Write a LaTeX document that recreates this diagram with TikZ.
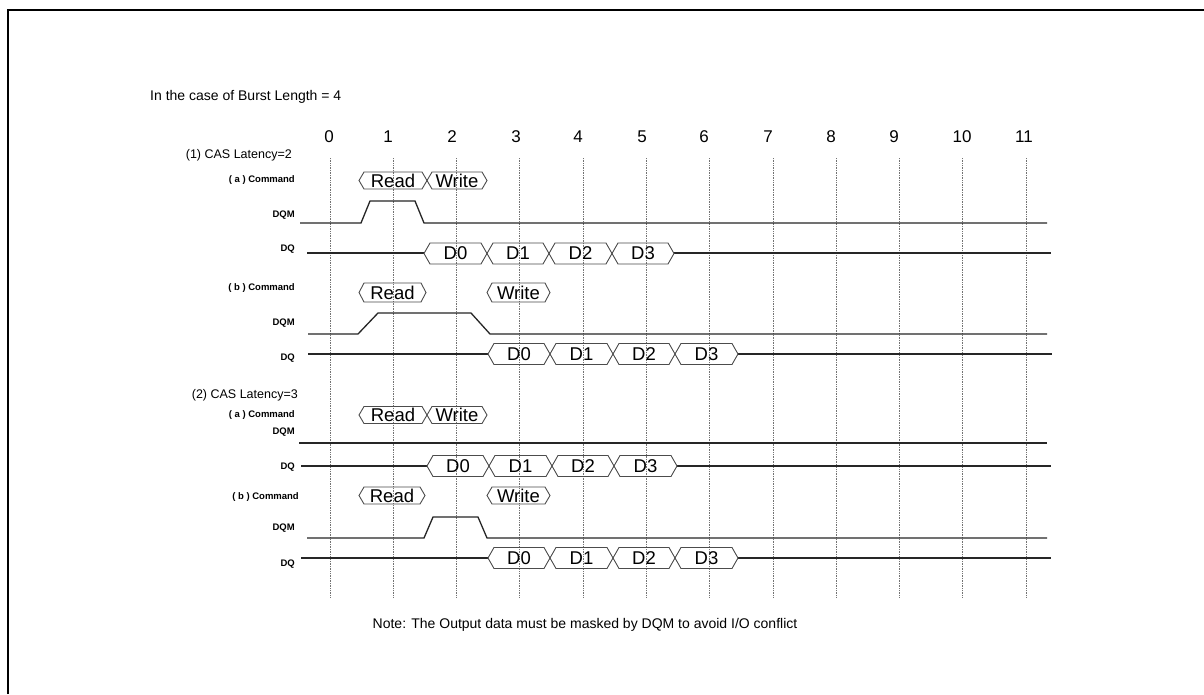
\documentclass[tikz,border=0pt]{standalone}
\usepackage{fontspec}
\setmainfont{Liberation Sans}
\tikzset{
  sig/.style={line width=1.3pt, draw=black!85, line join=miter},
  busline/.style={line width=0.9pt, draw=black!70},
  gridline/.style={line width=0.7pt, draw=black!55, densely dotted},
  lbl/.style={font=\fontsize{9.5}{11}\selectfont\bfseries, anchor=east, inner sep=0pt},
  sect/.style={font=\fontsize{12.5}{14}\selectfont, anchor=east, inner sep=0pt},
  tick/.style={font=\fontsize{17}{19}\selectfont, inner sep=0pt},
  bustext/.style={font=\fontsize{18.5}{20}\selectfont, inner sep=0pt},
  plain/.style={font=\fontsize{14}{16}\selectfont, inner sep=0pt},
  frameline/.style={line width=2.5pt, draw=black},
}
% #1 x0, #2 x1, #3 yc, #4 half height, #5 point depth, #6 name, #7 text
\newcommand{\tdbus}[7]{%
  \draw[busline] (#1,#3) -- ({#1+#5},{#3-#4}) -- ({#2-#5},{#3-#4}) -- (#2,#3)
     -- ({#2-#5},{#3+#4}) -- ({#1+#5},{#3+#4}) -- cycle;
  \node[bustext] (#6) at ({(#1+#2)/2},#3) {#7};}
% data burst: #1 yc, #2..#6 boundaries, #7 name prefix
\newcommand{\tddata}[7]{%
  \tdbus{#2}{#3}{#1}{10.5}{6}{#7d0}{D0}
  \tdbus{#3}{#4}{#1}{10.5}{6}{#7d1}{D1}
  \tdbus{#4}{#5}{#1}{10.5}{6}{#7d2}{D2}
  \tdbus{#5}{#6}{#1}{10.5}{6}{#7d3}{D3}}
\begin{document}
\begin{tikzpicture}[x=1pt,y=-1pt]
\useasboundingbox (0,0) rectangle (1204,694);
\fill[white] (0,0) rectangle (1204,694);
\draw[frameline] (8,694) -- (8,10) -- (1204,10);

\node[plain, anchor=west] (burst) at (150,97) {In the case of Burst Length = 4};

% clock numbers and dotted grid
\foreach \k/\tx in {0/329,1/388,2/452,3/516,4/578,5/642,6/704,7/768,8/831,9/894,10/962,11/1024}{
  \node[tick] (t\k) at (\tx,137) {\k};
  \draw[gridline] ({330+63.27*\k},158) -- ({330+63.27*\k},597);
}

% labels
\node[sect] (cas2) at (292,155) {(1) CAS Latency=2};
\node[lbl] (cmd1a) at (295,180) {( a ) Command};
\node[lbl] (dqm1a) at (295,215) {DQM};
\node[lbl] (dq1a) at (295,249) {DQ};
\node[lbl] (cmd1b) at (295,288) {( b ) Command};
\node[lbl] (dqm1b) at (295,323) {DQM};
\node[lbl] (dq1b) at (295,358) {DQ};
\node[sect] (cas3) at (298,395) {(2) CAS Latency=3};
\node[lbl] (cmd2a) at (295,415) {( a ) Command};
\node[lbl] (dqm2a) at (295,432) {DQM};
\node[lbl] (dq2a) at (295,467) {DQ};
\node[lbl] (cmd2b) at (299,497) {( b ) Command};
\node[lbl] (dqm2b) at (295,528) {DQM};
\node[lbl] (dq2b) at (295,564) {DQ};

% commands
\tdbus{359}{427}{180.5}{8.5}{5}{r1a}{Read}
\tdbus{427}{487}{180.5}{8.5}{5}{w1a}{Write}
\tdbus{359}{426}{292.5}{9.5}{5}{r1b}{Read}
\tdbus{487}{550}{292.5}{9.5}{5}{w1b}{Write}
\tdbus{359}{427}{415}{8.5}{5}{r2a}{Read}
\tdbus{427}{487}{415}{8.5}{5}{w2a}{Write}
\tdbus{359}{425}{495.5}{8.5}{5}{r2b}{Read}
\tdbus{487}{550}{495.5}{8.5}{5}{w2b}{Write}

% (1)(a)
\draw[sig] (300,223) -- (361,223) -- (370,201) -- (415,201) -- (424,223) -- (1047,223);
\draw[sig] (307,253) -- (424,253);
\draw[sig] (674,253) -- (1051,253);
\tddata{253.5}{424}{487}{549}{612}{674}{a}
% (1)(b)
\draw[sig] (308,334) -- (358,334) -- (378,313) -- (471,313) -- (490,334) -- (1047,334);
\draw[sig] (308,354) -- (488,354);
\draw[sig] (738,354) -- (1052,354);
\tddata{354}{488}{550}{613}{675}{738}{b}
% (2)(a)
\draw[sig] (299,443) -- (1047,443);
\draw[sig] (301,466) -- (427,466);
\draw[sig] (677,466) -- (1051,466);
\tddata{466}{427}{489}{552}{614}{677}{c}
% (2)(b)
\draw[sig] (307,538) -- (424,538) -- (433,517) -- (478,517) -- (487,538) -- (1047,538);
\draw[sig] (301,558) -- (488,558);
\draw[sig] (738,558) -- (1051,558);
\tddata{558}{488}{550}{613}{675}{738}{e}

\node[plain] (note) at (585,625) {Note: The Output data must be masked by DQM to avoid I/O conflict};
\end{tikzpicture}
\end{document}
